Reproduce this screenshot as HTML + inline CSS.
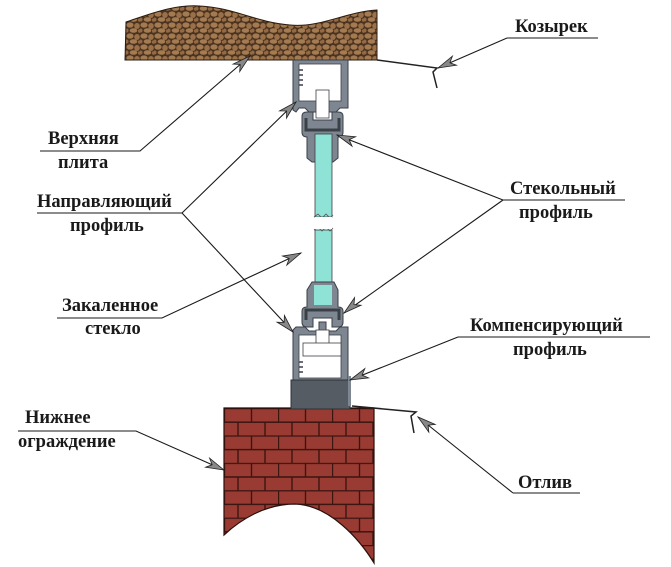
<!DOCTYPE html>
<html><head><meta charset="utf-8"><style>
html,body{margin:0;padding:0;background:#fff}
svg{display:block}
text{font-family:"Liberation Serif",serif;font-weight:bold;font-size:18.5px;fill:#1a1a1a}
</style></head><body>
<svg width="671" height="567" viewBox="0 0 671 567" xmlns="http://www.w3.org/2000/svg">
<defs>
<pattern id="stone" width="14" height="11" patternUnits="userSpaceOnUse">
<rect width="14" height="11" fill="#4a3320"/>
<ellipse cx="4" cy="3" rx="3.6" ry="2.6" fill="#a47a50"/>
<ellipse cx="11" cy="4" rx="2.8" ry="3" fill="#9b7048"/>
<ellipse cx="7.5" cy="8.5" rx="3.8" ry="2.3" fill="#a57b52"/>
<ellipse cx="0.5" cy="8.5" rx="2" ry="2" fill="#946a44"/>
<ellipse cx="13.5" cy="9" rx="1.6" ry="1.8" fill="#946a44"/>
</pattern>
<pattern id="brick" x="224" y="408" width="54" height="27.4" patternUnits="userSpaceOnUse">
<rect width="54" height="27.4" fill="#9a3b33"/>
<path d="M0 0.5H54M0 14.2H54M0.5 0V13.7M27.5 0V13.7M14 13.7V27.4M41 13.7V27.4" stroke="#3b1510" stroke-width="1.4"/>
</pattern>
<g id="ah"><path d="M0 0 L-18 -5 L-13 0 L-18 5 Z" fill="#888" stroke="#222" stroke-width="0.8"/></g>
</defs>

<path d="M125 60 L126 22 C150 14 175 4 200 6 C235 8 255 22 290 25 C320 28 345 12 377 10 L377 60 Z" fill="url(#stone)" stroke="#2a1c10" stroke-width="1"/>

<path d="M224 408 L374 408 L374 563 C360 540 330 505 295 504 C265 504 240 520 224 535 Z" fill="url(#brick)" stroke="#2a0f0a" stroke-width="1.2"/>

<path d="M377 60 L437 68 L433 72 L437 88" fill="none" stroke="#222" stroke-width="1.5"/>
<path d="M352 406 L416 412 L411 416 L414 433" fill="none" stroke="#222" stroke-width="1.5"/>

<path d="M293 60 H348 V108 H340 L336 112 L326 112 V95 H319 V112 L309 112 L305 108 H299 L296 112 L293 110 Z" fill="#7e8791" stroke="#3a3f46" stroke-width="1"/>
<rect x="299" y="64" width="42" height="37" fill="#fff" stroke="#3a3f46" stroke-width="0.8"/>
<path d="M299 70h4M299 75h4M299 80h4M299 85h4" stroke="#3a3f46" stroke-width="1.5"/>
<rect x="316" y="90" width="13" height="28" fill="#fff" stroke="#3a3f46" stroke-width="0.8"/>
<path d="M302 116 Q302 112 307 112 H313 V120 H332 V112 H338 Q343 112 343 116 V132 Q343 137 338 137 V158 L333 162 H312 L307 158 V137 Q302 137 302 132 Z" fill="#7e8791" stroke="#3a3f46" stroke-width="1"/>
<path d="M306 118 V130 H339 V118" fill="none" stroke="#3b4047" stroke-width="3"/>

<rect x="315" y="134" width="17" height="83" fill="#8fe3d6" stroke="#3a3f46" stroke-width="0.8"/>
<path d="M314 217 l4 -3 l4 4 l4 -4 l4 4 l3 -3" fill="none" stroke="#555" stroke-width="0.8"/>
<rect x="315" y="230" width="17" height="74" fill="#8fe3d6" stroke="#3a3f46" stroke-width="0.8"/>
<path d="M314 230 l4 -3 l4 4 l4 -4 l4 4 l3 -3" fill="none" stroke="#555" stroke-width="0.8"/>
<rect x="315" y="217" width="17" height="12" fill="#fff"/>

<path d="M307 290 L312 282 H334 L338 290 V307 Q343 307 343 311 V322 Q343 327 338 327 H332 V318 H313 V327 H307 Q302 327 302 322 V311 Q302 307 307 307 Z" fill="#7e8791" stroke="#3a3f46" stroke-width="1"/>
<rect x="314" y="285" width="18" height="20" fill="#8fe3d6"/>
<path d="M306 320 V310 H339 V320" fill="none" stroke="#3b4047" stroke-width="3"/>

<path d="M293 330 L296 327 H305 L309 331 H319 V322 H326 V331 H336 L340 327 H348 V382 H293 Z" fill="#7e8791" stroke="#3a3f46" stroke-width="1"/>
<rect x="299" y="335" width="42" height="43" fill="#fff" stroke="#3a3f46" stroke-width="0.8"/>
<rect x="316" y="330" width="13" height="14" fill="#fff" stroke="#3a3f46" stroke-width="0.8"/>
<rect x="303" y="343" width="38" height="13" fill="#fff" stroke="#3a3f46" stroke-width="0.8"/>
<path d="M299 362h4M299 367h4M299 372h4" stroke="#3a3f46" stroke-width="1.5"/>
<rect x="291" y="380" width="59" height="29" fill="#565c64" stroke="#2e3238" stroke-width="1"/>
<rect x="348" y="376" width="3" height="30" fill="#7e8791"/>

<g stroke="#1a1a1a" stroke-width="1.1" fill="none">
<path d="M507 38 H598 M507 38 L438 68"/>
<path d="M40 151 H140 L250 56"/>
<path d="M37 213 H182 L296 102 M182 213 L293 332"/>
<path d="M57 318 H162 L301 253"/>
<path d="M503 200 H625 M503 200 L337 135 M503 200 L344 313"/>
<path d="M458 337 H650 M458 337 L350 380"/>
<path d="M18 431 H136 L224 470"/>
<path d="M513 493 H580 M513 493 L418 417"/>
</g>
<use href="#ah" transform="translate(438,68) rotate(156)"/>
<use href="#ah" transform="translate(250,56) rotate(-41)"/>
<use href="#ah" transform="translate(296,102) rotate(-44)"/>
<use href="#ah" transform="translate(293,332) rotate(47)"/>
<use href="#ah" transform="translate(301,253) rotate(-25)"/>
<use href="#ah" transform="translate(337,135) rotate(201)"/>
<use href="#ah" transform="translate(344,313) rotate(140)"/>
<use href="#ah" transform="translate(350,380) rotate(158)"/>
<use href="#ah" transform="translate(224,470) rotate(24)"/>
<use href="#ah" transform="translate(418,417) rotate(219)"/>

<text x="515" y="32">Козырек</text>
<text x="48" y="144">Верхняя</text>
<text x="58" y="168">плита</text>
<text x="37" y="207">Направляющий</text>
<text x="70" y="231">профиль</text>
<text x="510" y="194">Стекольный</text>
<text x="519" y="218">профиль</text>
<text x="62" y="311">Закаленное</text>
<text x="85" y="334">стекло</text>
<text x="470" y="331">Компенсирующий</text>
<text x="513" y="355">профиль</text>
<text x="25" y="423">Нижнее</text>
<text x="18" y="447">ограждение</text>
<text x="518" y="488">Отлив</text>
</svg>
</body></html>
